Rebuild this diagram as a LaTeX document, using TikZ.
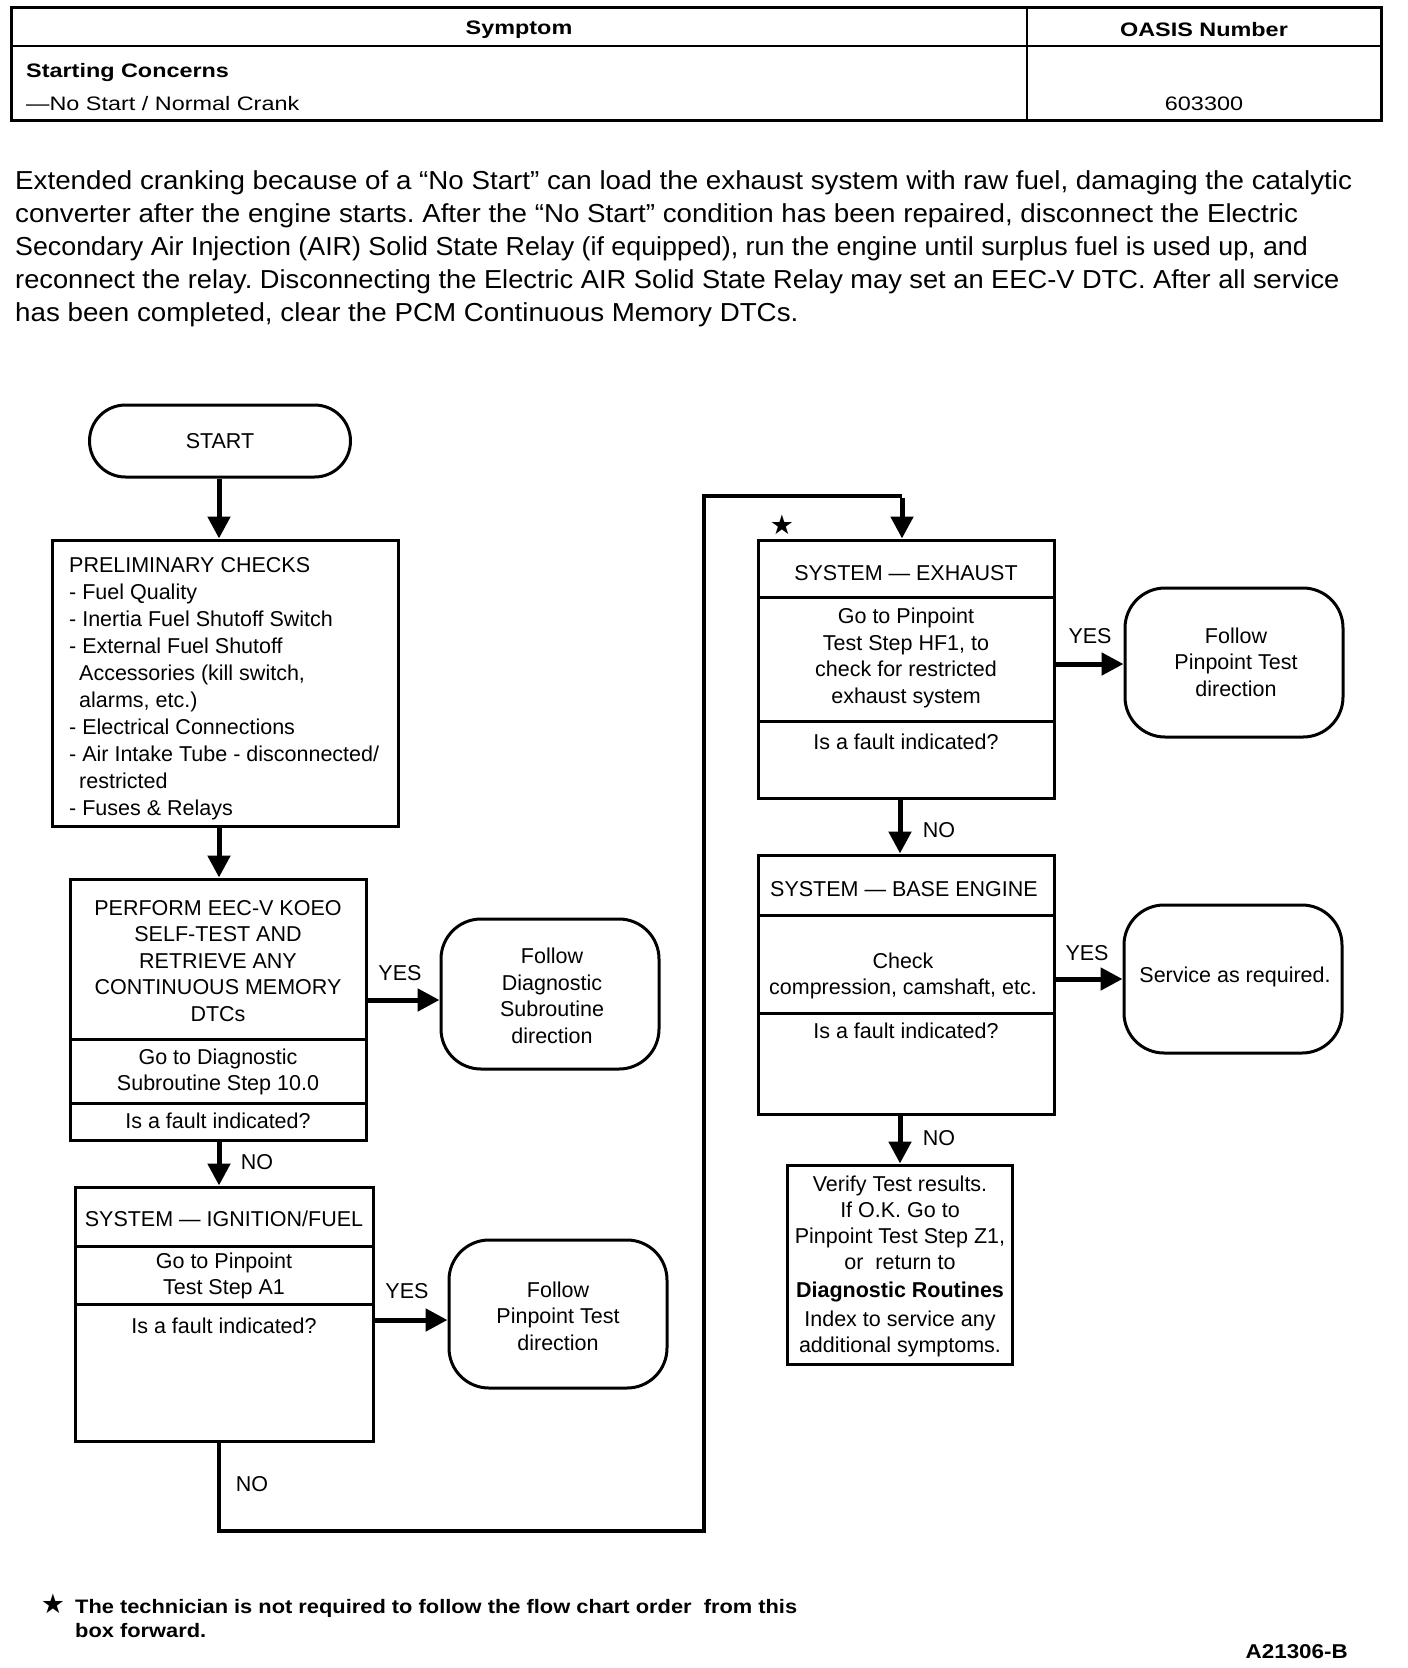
\documentclass[tikz,border=0pt]{standalone}
\usepackage{fontspec}
\setmainfont{Liberation Sans}
\newfontfamily\hdrfont[FakeStretch=1.2]{Liberation Sans}
\newfontfamily\parafont[FakeStretch=1.067]{Liberation Sans}
\newfontfamily\footfont[FakeStretch=1.12]{Liberation Sans}
\newfontfamily\symfont{DejaVu Sans}
\usetikzlibrary{arrows.meta}
\frenchspacing
\begin{document}
\begin{tikzpicture}[x=1pt,y=-1pt,
  part/.style={draw,line width=3pt,inner sep=0pt},
  rbox/.style={draw,line width=3pt,rounded corners=40pt,inner sep=0pt},
  cell/.style={draw,line width=1.8pt,inner sep=0pt},
  txt/.style={inner sep=0pt,align=center,font=\fontsize{21.5}{26.5}\selectfont},
  lbl/.style={inner sep=0pt,font=\fontsize{21.5}{26}\selectfont},
  hdr/.style={inner sep=0pt,font=\hdrfont\fontsize{19.5}{24}\selectfont},
  hdrb/.style={inner sep=0pt,font=\hdrfont\bfseries\fontsize{19.5}{24}\selectfont},
  para/.style={inner sep=0pt,anchor=base west,font=\parafont\fontsize{26}{33}\selectfont},
  foot/.style={inner sep=0pt,anchor=base west,font=\footfont\bfseries\fontsize{19.5}{23}\selectfont},
  arr/.style={line width=5pt,-{Triangle[width=22pt,length=22pt]}},
  loopline/.style={line width=4pt},
  starsym/.style={inner sep=0pt,font=\symfont\fontsize{27}{27}\selectfont}
]
\path[use as bounding box] (0,0) rectangle (1408,1668);

% ---------- header table ----------
\node[cell,minimum width=1015,minimum height=38] (hsym) at (519.5,27) {};
\node[cell,minimum width=354,minimum height=38] (hoas) at (1204,27) {};
\node[cell,minimum width=1015,minimum height=74] (hcon) at (519.5,83) {};
\node[cell,minimum width=354,minimum height=74] (hnum) at (1204,83) {};
\draw[line width=3pt] (hsym.north west) rectangle (hnum.south east);
\node[hdrb] (tsym) at (519,30) {Symptom};
\node[hdrb] (toas) at (1204,30) {OASIS Number};
\node[hdrb,anchor=west] (tcon) at (26,72) {Starting Concerns};
\node[hdr,anchor=west] (tns) at (26,104) {—No Start / Normal Crank};
\node[hdr] (tnum) at (1204,104) {603300};

% ---------- paragraph ----------
\node[para] (p1) at (15,189) {Extended cranking because of a “No Start” can load the exhaust system with raw fuel, damaging the catalytic};
\node[para] (p2) at (15,222) {converter after the engine starts. After the “No Start” condition has been repaired, disconnect the Electric};
\begin{scope}[xscale=0.967]
\node[para,transform shape] (p3) at (15.5,255) {Secondary Air Injection (AIR) Solid State Relay (if equipped), run the engine until surplus fuel is used up, and};
\end{scope}
\begin{scope}[xscale=0.982]
\node[para,transform shape] (p4) at (15.3,288) {reconnect the relay. Disconnecting the Electric AIR Solid State Relay may set an EEC-V DTC. After all service};
\end{scope}
\node[para] (p5) at (15,321) {has been completed, clear the PCM Continuous Memory DTCs.};

% ---------- left column ----------
\coordinate (colL) at (219,0);
\node[part,rounded corners=36pt,minimum width=261,minimum height=72] (start) at (220,441) {};
\node[lbl] at (start) {START};

\node[part,minimum width=346,minimum height=286] (pre) at (225,683) {};
\node[txt,align=left,anchor=west,font=\fontsize{21.5}{27}\selectfont] at (69,689) {PRELIMINARY CHECKS\\
- Fuel Quality\\
- Inertia Fuel Shutoff Switch\\
- External Fuel Shutoff\\
\hspace*{10pt}Accessories (kill switch,\\
\hspace*{10pt}alarms, etc.)\\
- Electrical Connections\\
- Air Intake Tube - disconnected/\\
\hspace*{10pt}restricted\\
- Fuses \& Relays};

\node[part,minimum width=296,minimum height=160] (perf1) at (218,959) {};
\node[part,minimum width=296,minimum height=64] (perf2) at (218,1071) {};
\node[part,minimum width=296,minimum height=37] (perf3) at (218,1121.5) {};
\node[txt] at (218,961) {PERFORM EEC-V KOEO\\SELF-TEST AND\\RETRIEVE ANY\\CONTINUOUS MEMORY\\DTCs};
\node[txt] at (218,1072) {Go to Diagnostic\\Subroutine Step 10.0};
\node[txt] at (218,1121) {Is a fault indicated?};

\node[rbox,minimum width=218,minimum height=150] (fdiag) at (550,994) {};
\node[txt] at (552,996) {Follow\\Diagnostic\\Subroutine\\direction};

\node[part,minimum width=298,minimum height=59] (ign1) at (224,1216.5) {};
\node[part,minimum width=298,minimum height=58] (ign2) at (224,1275) {};
\node[part,minimum width=298,minimum height=137] (ign3) at (224,1372.5) {};
\node[txt] at (224,1219) {SYSTEM — IGNITION/FUEL};
\node[txt] at (224,1276) {Go to Pinpoint\\Test Step A1};
\node[txt] at (224,1326) {Is a fault indicated?};

\node[rbox,minimum width=218,minimum height=148] (fpin1) at (558,1314) {};
\node[txt] at (558,1316) {Follow\\Pinpoint Test\\direction};

% ---------- right column ----------
\coordinate (colR) at (900,0);
\node[part,minimum width=296,minimum height=57] (exh1) at (906,568.5) {};
\node[part,minimum width=296,minimum height=124] (exh2) at (906,659) {};
\node[part,minimum width=296,minimum height=77] (exh3) at (906,759.5) {};
\node[txt] at (906,573) {SYSTEM — EXHAUST};
\node[txt] at (906,658) {Go to Pinpoint\\Test Step HF1, to\\check for restricted\\exhaust system};
\node[txt] at (906,742) {Is a fault indicated?};
\node[starsym] (star1) at (782,525) {★};

\node[rbox,minimum width=218,minimum height=149] (fpin2) at (1234,662.5) {};
\node[txt] at (1236,662) {Follow\\Pinpoint Test\\direction};

\node[part,minimum width=296,minimum height=60] (base1) at (906,885) {};
\node[part,minimum width=296,minimum height=98] (base2) at (906,964) {};
\node[part,minimum width=296,minimum height=101] (base3) at (906,1063.5) {};
\node[txt] at (904,889) {SYSTEM — BASE ENGINE};
\node[txt] at (903,976) {Check\\compression, camshaft, etc.};
\node[txt] at (906,1031) {Is a fault indicated?};

\node[rbox,minimum width=218,minimum height=148] (serv) at (1233,979) {};
\node[txt] at (1235,977) {Service as required.};

\node[part,minimum width=225,minimum height=199] (ver) at (899.5,1264.5) {};
\node[txt,font=\fontsize{21.5}{26}\selectfont] at (900,1266) {Verify Test results.\\If O.K. Go to\\Pinpoint Test Step Z1,\\or\; return to\\[2pt]\textbf{Diagnostic Routines}\\[3pt]Index to service any\\additional symptoms.};

% ---------- connectors ----------
\draw[arr] (start.south -| colL) -- (pre.north -| colL);
\draw[arr] (pre.south -| colL) -- (perf1.north -| colL);
\coordinate (y1) at (0,1000);
\draw[arr] (perf1.east |- y1) -- (fdiag.west |- y1);
\node[lbl] at (400,973) {YES};
\draw[arr] (perf3.south -| colL) -- (ign1.north -| colL);
\node[lbl] at (257,1162) {NO};
\coordinate (y2) at (0,1320);
\draw[arr] (ign3.east |- y2) -- (fpin1.west |- y2);
\node[lbl] at (407,1291) {YES};

\coordinate (lb) at (219,1531);
\coordinate (rb) at (704,1531);
\coordinate (rt) at (704,496);
\coordinate (et) at (902,496);
\draw[loopline] (ign3.south -| colL) -- (lb) -- (rb) -- (rt) -- (et);
\draw[arr] ([yshift=-2pt]et) -- (exh1.north -| et);
\node[lbl] at (252,1484) {NO};

\coordinate (y3) at (0,664);
\draw[arr] (exh2.east |- y3) -- (fpin2.west |- y3);
\node[lbl] at (1090,636) {YES};
\draw[arr] (exh3.south -| colR) -- (base1.north -| colR);
\node[lbl] at (939,830) {NO};
\coordinate (y4) at (0,979);
\draw[arr] (base2.east |- y4) -- (serv.west |- y4);
\node[lbl] at (1087,953) {YES};
\draw[arr] (base3.south -| colR) -- (ver.north -| colR);
\node[lbl] at (939,1138) {NO};

% ---------- footer ----------
\node[starsym] (star2) at (53,1604) {★};
\node[foot] (f1) at (75,1613) {The technician is not required to follow the flow chart order\ \ from this};
\node[foot] (f2) at (75,1637) {box forward.};
\node[inner sep=0pt,anchor=base east,font=\footfont\bfseries\fontsize{20}{24}\selectfont] (code) at (1348,1658) {A21306-B};
\end{tikzpicture}
\end{document}
